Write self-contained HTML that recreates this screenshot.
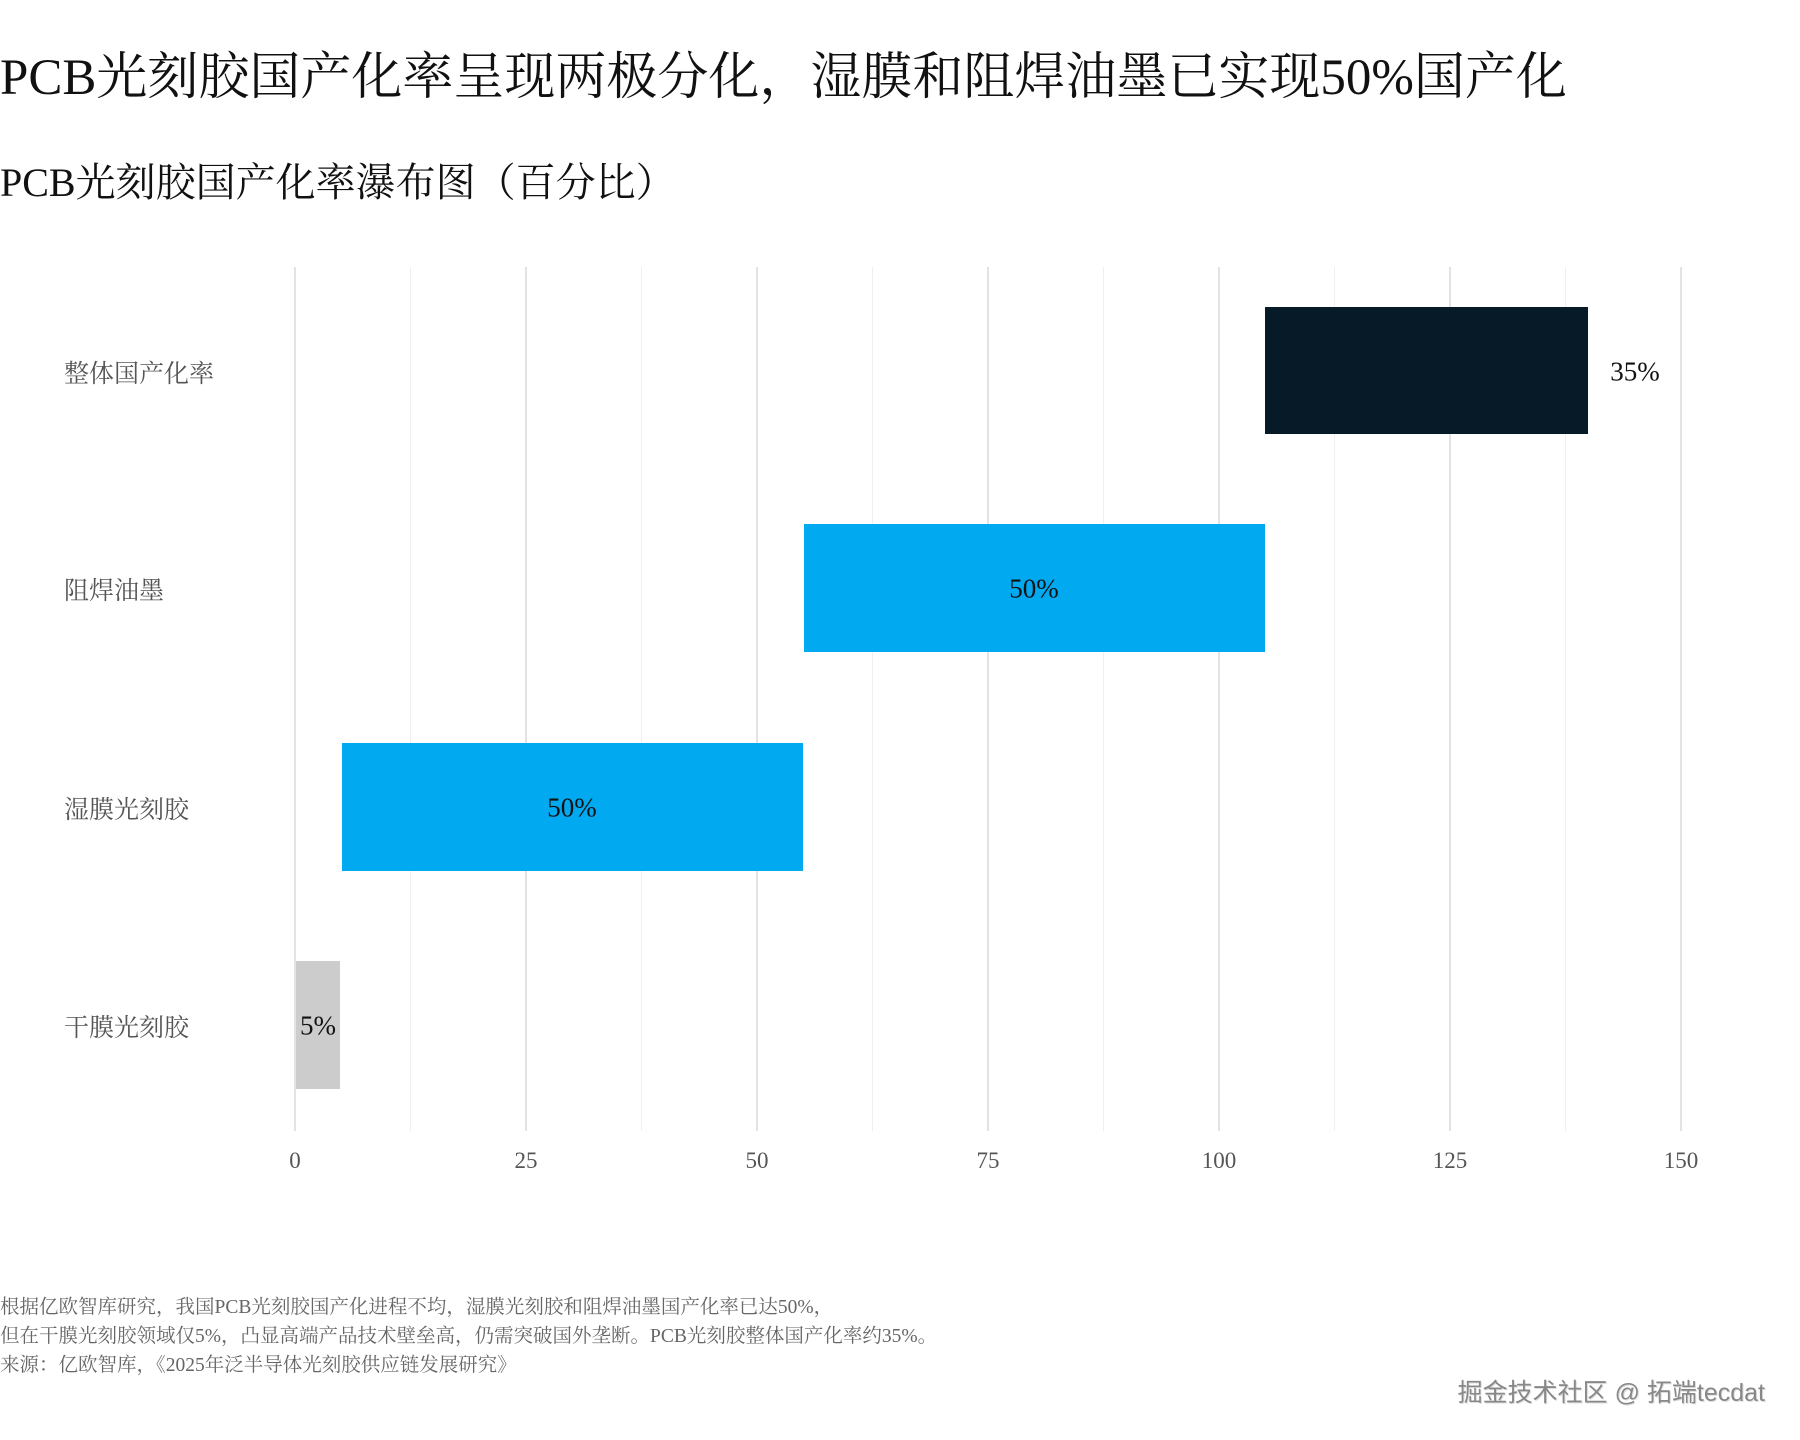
<!DOCTYPE html>
<html><head><meta charset="utf-8"><style>
body{margin:0;width:1800px;height:1440px;background:#fff;position:relative;overflow:hidden;font-family:"Liberation Serif","Noto Serif CJK SC",serif;}
div{position:absolute;white-space:nowrap;}
.g{top:267px;height:864px;width:2px;background:#e3e3e3;}
.m{top:267px;height:864px;width:1px;background:#efefef;}
.cat{left:64px;font-size:25px;color:#555;transform:translateY(-50%);}
.tk{top:1148px;font-size:23px;color:#555;transform:translateX(-50%);}
.bl{font-size:27px;color:#111;transform:translate(-50%,-50%);}
.fn{left:0;font-size:19.5px;color:#666;}
</style></head><body>
<div style="left:0;top:35px;font-size:51px;color:#111;">PCB光刻胶国产化率呈现两极分化，湿膜和阻焊油墨已实现50%国产化</div>
<div style="left:0;top:151px;font-size:40px;color:#111;">PCB光刻胶国产化率瀑布图（百分比）</div>

<div class="g" style="left:294px"></div>
<div class="m" style="left:410px"></div>
<div class="g" style="left:525px"></div>
<div class="m" style="left:641px"></div>
<div class="g" style="left:756px"></div>
<div class="m" style="left:872px"></div>
<div class="g" style="left:987px"></div>
<div class="m" style="left:1103px"></div>
<div class="g" style="left:1218px"></div>
<div class="m" style="left:1334px"></div>
<div class="g" style="left:1449px"></div>
<div class="m" style="left:1565px"></div>
<div class="g" style="left:1680px"></div>

<div style="left:1265px;top:307px;width:323px;height:127px;background:#061a28;"></div>
<div style="left:804px;top:524px;width:461px;height:128px;background:#00a9f0;"></div>
<div style="left:342px;top:743px;width:461px;height:128px;background:#00a9f0;"></div>
<div style="left:296px;top:961px;width:44px;height:128px;background:#cccccc;"></div>

<div class="bl" style="left:1635px;top:372px;">35%</div>
<div class="bl" style="left:1034px;top:589px;">50%</div>
<div class="bl" style="left:572px;top:808px;">50%</div>
<div class="bl" style="left:318px;top:1026px;">5%</div>

<div class="cat" style="top:372px;">整体国产化率</div>
<div class="cat" style="top:589px;">阻焊油墨</div>
<div class="cat" style="top:808px;">湿膜光刻胶</div>
<div class="cat" style="top:1026px;">干膜光刻胶</div>

<div class="tk" style="left:295px">0</div>
<div class="tk" style="left:526px">25</div>
<div class="tk" style="left:757px">50</div>
<div class="tk" style="left:988px">75</div>
<div class="tk" style="left:1219px">100</div>
<div class="tk" style="left:1450px">125</div>
<div class="tk" style="left:1681px">150</div>

<div class="fn" style="top:1291px;">根据亿欧智库研究，我国PCB光刻胶国产化进程不均，湿膜光刻胶和阻焊油墨国产化率已达50%，</div>
<div class="fn" style="top:1320px;">但在干膜光刻胶领域仅5%，凸显高端产品技术壁垒高，仍需突破国外垄断。PCB光刻胶整体国产化率约35%。</div>
<div class="fn" style="top:1349px;">来源：亿欧智库，《2025年泛半导体光刻胶供应链发展研究》</div>
<div style="right:35px;top:1373px;font-size:25px;color:#888;font-family:'Liberation Sans','Noto Sans CJK SC',sans-serif;text-shadow:1px 1px 0 #ddd;">掘金技术社区 @ 拓端tecdat</div>
</body></html>
